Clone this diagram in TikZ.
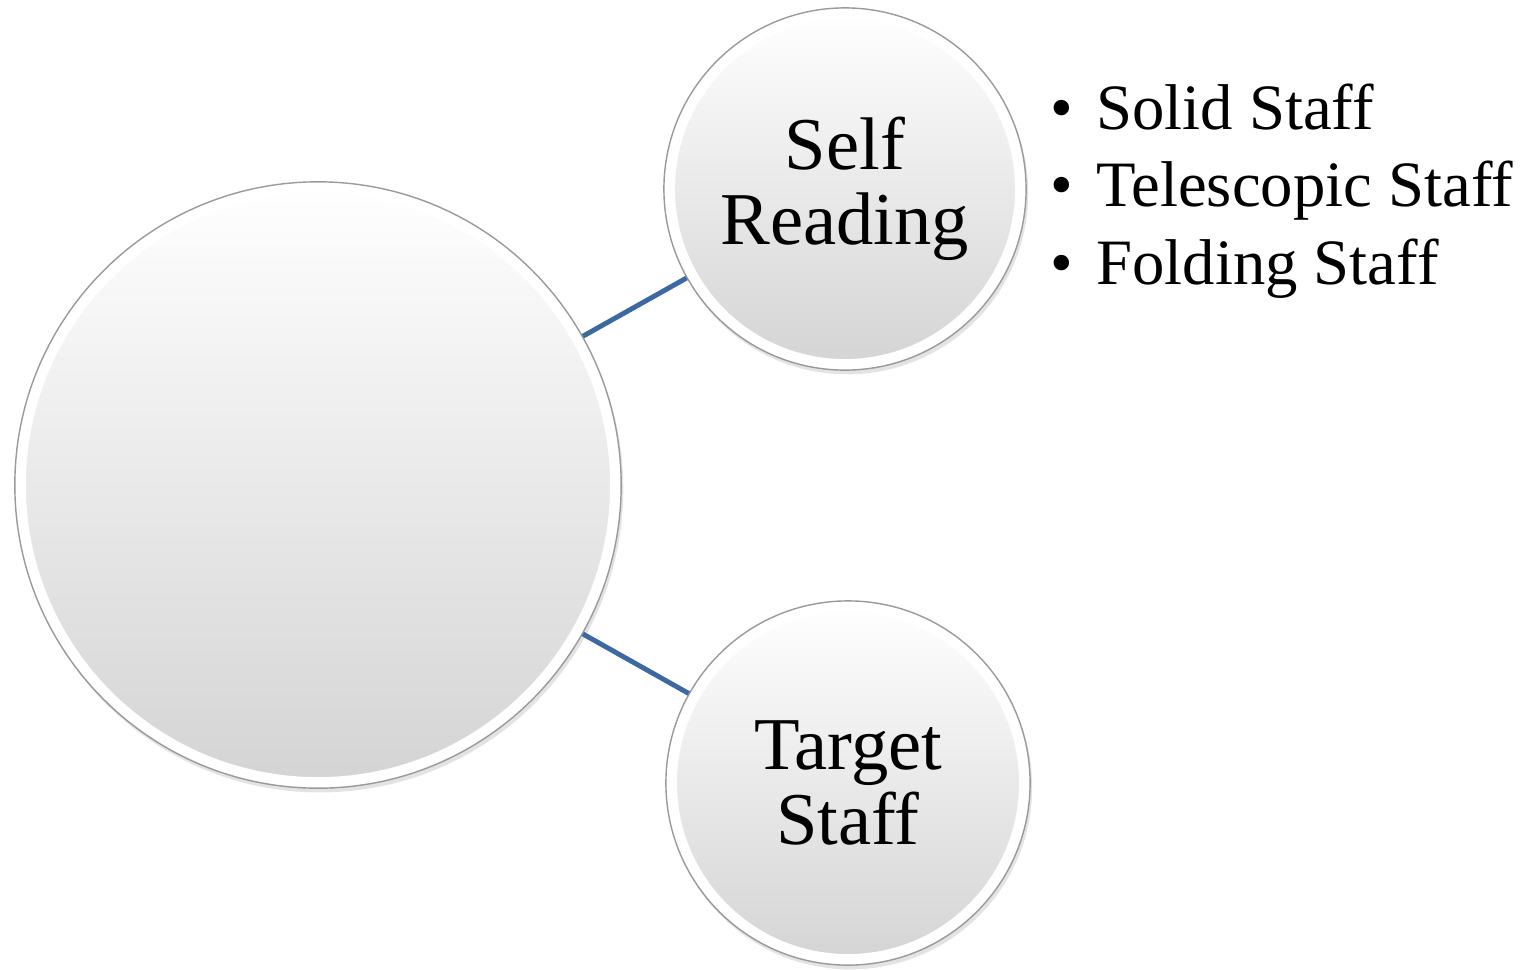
\documentclass[tikz,border=0pt]{standalone}
\usepackage{fontspec}
\setmainfont{Liberation Serif}
\usepackage{tikz}
\usetikzlibrary{shadows}
\definecolor{linkblue}{HTML}{3D69A2}
\definecolor{rim}{HTML}{9A9A9A}
\tikzset{
  bub/.style={circle,draw=rim,line width=0.4pt,fill=white,inner sep=0pt,minimum size=#1,
    align=center,font=\fontsize{21.2}{21.4}\selectfont,
    drop shadow={opacity=0.22,shadow xshift=0.6pt,shadow yshift=-1.2pt},
    path picture={\shade[top color=white,bottom color=black!17,draw=white,line width=0.6pt]
      (path picture bounding box.center) circle ({#1/2-0.1cm});}},
  link/.style={draw=linkblue,line width=1.4pt},
  blist/.style={align=left,font=\fontsize{18.4}{22}\selectfont,inner sep=0pt}
}
\newcommand{\bitem}{\makebox[13pt][l]{\textbullet}}
\begin{document}
\begin{tikzpicture}[x=0.01cm,y=0.01cm]
  \useasboundingbox (0,0) rectangle (1524,-969);
  \node[bub=6.06cm] (hub) at (318,-485) {};
  \node[bub=3.62cm] (self) at (845,-189) {Self\\Reading};
  \node[bub=3.64cm] (target) at (848,-783) {Target\\Staff};
  \draw[link] (hub) -- (self); \draw[link] (hub) -- (target);
  \node[blist,anchor=north west] (kinds) at (1050,-83) {\bitem Solid Staff\\ \bitem Telescopic Staff\\ \bitem Folding Staff};
\end{tikzpicture}
\end{document}
